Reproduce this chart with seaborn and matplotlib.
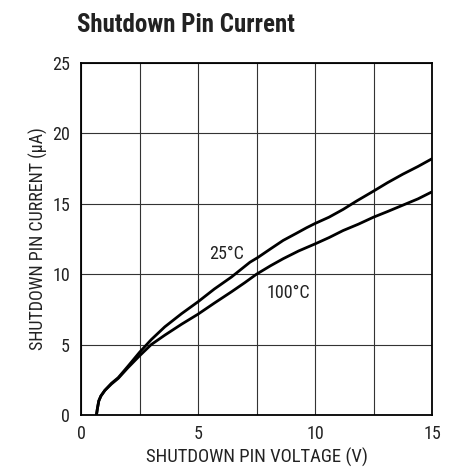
import matplotlib
matplotlib.use("Agg")
import matplotlib.pyplot as plt
import seaborn as sns
import pandas as pd

# values
volts_25c = [0.66, 0.7, 0.76, 0.85, 1.02, 1.3, 1.59, 2.0, 2.5, 3.0, 3.58, 4.3, 5.0,
             5.7, 6.43, 7.22, 7.57, 8.1, 8.64, 9.2, 9.64, 10.0, 10.6, 11.2, 11.78,
             12.5, 13.1, 13.75, 14.4, 15.0]
current_25c = [0.0, 0.45, 1.0, 1.35, 1.75, 2.25, 2.65, 3.45, 4.45, 5.35, 6.26, 7.2, 8.04,
               8.95, 9.8, 10.85, 11.2, 11.8, 12.4, 12.9, 13.3, 13.6, 14.05, 14.6, 15.2,
               15.9, 16.5, 17.1, 17.65, 18.2]

volts_100c = [0.66, 0.7, 0.76, 0.85, 1.02, 1.3, 1.59, 2.0, 2.5, 3.0, 3.58, 4.3, 5.0,
              5.7, 6.43, 7.0, 7.5, 8.1, 8.64, 9.3, 10.0, 10.6, 11.2, 11.85, 12.5,
              13.1, 13.75, 14.4, 15.0]
current_100c = [0.0, 0.45, 1.0, 1.35, 1.75, 2.2, 2.6, 3.35, 4.2, 5.0, 5.67, 6.45, 7.16,
                7.95, 8.75, 9.4, 10.0, 10.6, 11.1, 11.65, 12.15, 12.6, 13.1, 13.55, 14.05,
                14.45, 14.9, 15.35, 15.85]

df = pd.concat([
    pd.DataFrame({"volts": volts_25c, "current": current_25c, "temp": "25°C"}),
    pd.DataFrame({"volts": volts_100c, "current": current_100c, "temp": "100°C"}),
])

sns.set_theme(style="white")
plt.rcParams["font.family"] = ["Roboto Condensed", "Liberation Sans", "DejaVu Sans"]
plt.rcParams["font.stretch"] = "condensed"

fig = plt.figure(figsize=(4.49, 4.70), dpi=100)
ax = fig.add_axes([81 / 449, 55 / 470, 351 / 449, 352 / 470])

sns.lineplot(data=df, x="volts", y="current", hue="temp", sort=False,
             palette=["black", "black"], linewidth=2.0, legend=False, ax=ax)

ax.set_xlim(0, 15)
ax.set_ylim(0, 25)
ax.set_xticks([0, 5, 10, 15])
ax.set_yticks([0, 5, 10, 15, 20, 25])
ax.set_xticks([2.5, 7.5, 12.5], minor=True)
ax.grid(True, which="both", color="#333333", linewidth=0.8)
ax.tick_params(which="both", length=0, labelsize=13, colors="#222222")
ax.tick_params(axis="y", pad=8)
ax.tick_params(axis="x", pad=7)

for side in ax.spines.values():
    side.set_color("black")
    side.set_linewidth(1.3)

ax.set_xlabel("SHUTDOWN PIN VOLTAGE (V)", fontsize=13.5, color="#222222", labelpad=4)
ax.set_ylabel("SHUTDOWN PIN CURRENT (μA)", fontsize=13, color="#222222", labelpad=3)

ax.text(6.2, 11.4, "25°C", fontsize=13, ha="center", va="center", color="#222222")
ax.text(8.85, 8.7, "100°C", fontsize=13, ha="center", va="center", color="#222222")

fig.text(77 / 449, 1 - 25 / 470, "Shutdown Pin Current", fontsize=18, fontweight="bold",
         ha="left", va="center", color="#222222")

fig.savefig("out.png", dpi=100)
